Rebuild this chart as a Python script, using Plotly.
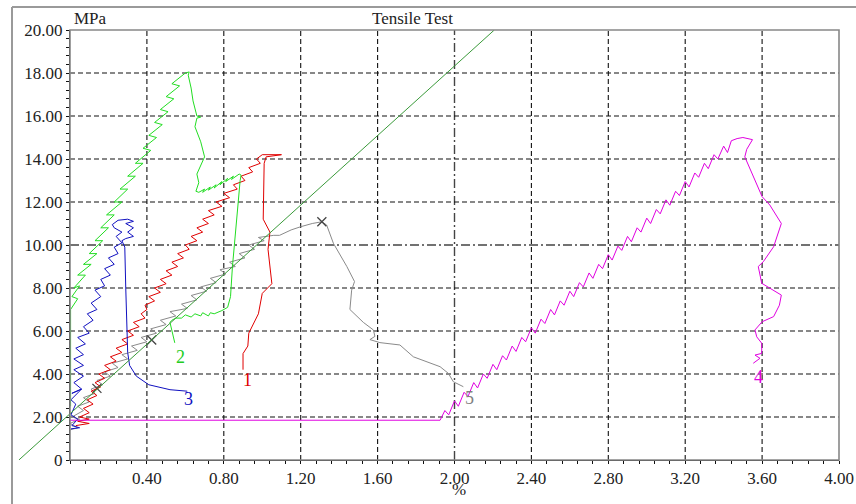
import plotly.graph_objects as go

# ---------------- data ----------------
x_tick_vals = [0.4, 0.8, 1.2, 1.6, 2.0, 2.4, 2.8, 3.2, 3.6, 4.0]
x_tick_text = ["0.40", "0.80", "1.20", "1.60", "2.00", "2.40", "2.80", "3.20", "3.60", "4.00"]
y_tick_vals = [0, 2, 4, 6, 8, 10, 12, 14, 16, 18, 20]
y_tick_text = ["0", "2.00", "4.00", "6.00", "8.00", "10.00", "12.00", "14.00", "16.00", "18.00", "20.00"]

# specimen 1 (red)
red_x = [0.03, 0.10, 0.04, 0.10, 0.05, 0.10, 0.07, 0.12, 0.09, 0.14, 0.11, 0.16, 0.13, 0.18, 0.15,
         0.21, 0.18, 0.24, 0.21, 0.27, 0.24, 0.30, 0.27, 0.33, 0.30, 0.36, 0.33, 0.39, 0.37, 0.40,
         0.39, 0.44, 0.41, 0.47, 0.44, 0.50, 0.47, 0.53, 0.50, 0.56, 0.53, 0.59, 0.56, 0.62, 0.60,
         0.66, 0.63, 0.69, 0.66, 0.72, 0.69, 0.75, 0.72, 0.79, 0.76, 0.83, 0.80, 0.87, 0.85, 0.91,
         0.89, 0.95, 0.93, 0.99, 0.97, 1.00, 1.10, 1.02, 1.01, 1.005, 1.04, 1.03, 1.05, 1.00, 0.98,
         0.93, 0.925, 0.90, 0.90]
red_y = [1.6, 1.7, 1.8, 1.9, 2.0, 2.2, 2.4, 2.6, 2.8, 3.0, 3.2, 3.4, 3.6, 3.8, 4.0,
         4.2, 4.4, 4.6, 4.8, 5.0, 5.2, 5.4, 5.6, 5.8, 6.0, 6.2, 6.4, 6.6, 6.8, 7.0,
         7.2, 7.4, 7.6, 7.8, 8.0, 8.2, 8.4, 8.6, 8.8, 9.0, 9.2, 9.4, 9.6, 9.8, 10.0,
         10.2, 10.4, 10.6, 10.8, 11.0, 11.2, 11.4, 11.6, 11.8, 12.0, 12.2, 12.4, 12.6, 12.8, 13.0,
         13.2, 13.4, 13.6, 13.8, 14.0, 14.2, 14.2, 14.1, 13.8, 11.2, 10.6, 9.8, 8.2, 7.75, 6.8,
         5.9, 5.3, 4.95, 4.2]

# specimen 2 (green)
green_x = [0.003, 0.003, 0.04, 0.01, 0.05, 0.02, 0.08, 0.04, 0.11, 0.07, 0.14, 0.10, 0.17, 0.13,
           0.20, 0.16, 0.23, 0.19, 0.27, 0.23, 0.30, 0.26, 0.34, 0.30, 0.38, 0.34, 0.42, 0.38,
           0.45, 0.41, 0.48, 0.44, 0.51, 0.47, 0.54, 0.50, 0.57, 0.53, 0.60, 0.62,
           0.615, 0.63, 0.64, 0.66, 0.68, 0.66, 0.65, 0.68, 0.70, 0.68, 0.66,
           0.67, 0.655, 0.67, 0.70, 0.69, 0.73, 0.72, 0.76, 0.75, 0.79, 0.78, 0.82, 0.81, 0.85,
           0.84, 0.88, 0.89, 0.885, 0.875, 0.86, 0.845, 0.835, 0.82, 0.79, 0.75, 0.73, 0.72,
           0.69, 0.68, 0.65, 0.63, 0.60, 0.58, 0.55, 0.53, 0.52, 0.53, 0.545]
green_y = [2.5, 7.0, 7.5, 7.6, 8.1, 8.0, 8.6, 8.6, 9.1, 9.1, 9.6, 9.6, 10.2, 10.2,
           10.8, 10.8, 11.4, 11.4, 12.0, 12.0, 12.6, 12.6, 13.2, 13.2, 13.8, 13.8, 14.4, 14.5,
           15.0, 15.1, 15.6, 15.7, 16.2, 16.3, 16.8, 16.9, 17.4, 17.5, 18.0, 18.05,
           17.9, 17.3, 16.7, 16.0, 15.95, 15.9, 15.5, 14.8, 14.1, 13.7, 13.3,
           12.9, 12.5, 12.45, 12.6, 12.45, 12.7, 12.55, 12.8, 12.65, 12.95, 12.8, 13.1, 12.95, 13.2,
           13.05, 13.3, 13.25, 13.0, 12.0, 10.5, 9.0, 7.6, 7.1, 6.95, 6.8, 6.85, 6.7,
           6.85, 6.7, 6.8, 6.65, 6.75, 6.6, 6.6, 6.5, 6.4, 6.0, 5.45]

# specimen 3 (blue)
blue_x = [0.005, 0.05, 0.01, 0.04, 0.005, 0.03, 0.005, 0.06, 0.01, 0.06, 0.02, 0.07, 0.02, 0.07,
          0.02, 0.07, 0.03, 0.08, 0.04, 0.10, 0.07, 0.12, 0.09, 0.14, 0.11, 0.16, 0.13, 0.18,
          0.16, 0.21, 0.18, 0.23, 0.20, 0.25, 0.23, 0.27, 0.24, 0.27, 0.23, 0.22, 0.25, 0.30,
          0.33, 0.29, 0.33, 0.30, 0.33, 0.29, 0.27, 0.285, 0.29, 0.295, 0.30, 0.31, 0.345, 0.41,
          0.52, 0.61]
blue_y = [1.45, 1.5, 1.6, 1.9, 2.1, 2.6, 2.8, 3.3, 3.1, 3.3, 3.6, 3.9, 4.2, 4.4,
          4.7, 4.9, 5.2, 5.4, 5.7, 5.9, 6.2, 6.5, 6.8, 7.0, 7.3, 7.6, 7.9, 8.1,
          8.4, 8.6, 8.9, 9.1, 9.4, 9.6, 9.9, 10.1, 10.4, 10.6, 10.8, 10.95, 11.15, 11.2,
          11.1, 11.0, 10.8, 10.6, 10.4, 10.3, 10.2, 9.9, 8.0, 6.0, 5.0, 4.4, 3.9, 3.5,
          3.27, 3.2]

# specimen 4 (magenta)
mag_x = [0.0, 1.925, 1.95, 1.97, 2.00, 2.02, 2.05, 2.07, 2.10, 2.12, 2.15, 2.17, 2.20, 2.22,
         2.25, 2.27, 2.30, 2.32, 2.35, 2.37, 2.40, 2.42, 2.45, 2.47, 2.50, 2.52, 2.55, 2.57,
         2.60, 2.62, 2.65, 2.67, 2.70, 2.72, 2.75, 2.77, 2.80, 2.82, 2.85, 2.87, 2.90, 2.92,
         2.95, 2.97, 3.00, 3.02, 3.05, 3.07, 3.10, 3.12, 3.15, 3.17, 3.20, 3.22, 3.25, 3.27,
         3.30, 3.32, 3.35, 3.37, 3.40, 3.42, 3.44, 3.47, 3.50, 3.55, 3.52, 3.51, 3.60, 3.64,
         3.70, 3.66, 3.606, 3.58, 3.598, 3.70, 3.69, 3.66, 3.60, 3.563, 3.572, 3.598, 3.598,
         3.563, 3.589, 3.554]
mag_y = [1.85, 1.85, 2.3, 2.1, 2.75, 2.5, 3.15, 2.95, 3.6, 3.35, 4.0, 3.8, 4.45, 4.2,
         4.85, 4.65, 5.3, 5.05, 5.7, 5.5, 6.15, 5.9, 6.55, 6.35, 7.0, 6.75, 7.4, 7.2,
         7.85, 7.6, 8.25, 8.05, 8.7, 8.45, 9.1, 8.9, 9.55, 9.3, 9.95, 9.75, 10.4, 10.15,
         10.8, 10.6, 11.25, 11.0, 11.65, 11.45, 12.1, 11.85, 12.5, 12.3, 12.95, 12.7, 13.35, 13.15,
         13.8, 13.55, 14.2, 14.0, 14.6, 14.3, 14.85, 14.95, 15.0, 14.9, 14.45, 14.1, 12.25, 11.86,
         11.0, 9.92, 9.22, 9.0, 8.22, 7.67, 7.2, 6.67, 6.43, 6.05, 5.73, 5.43, 4.96,
         4.88, 4.73, 4.5]

# specimen 5 (grey)
grey_x = [0.0, 0.04, 0.0, 0.05, 0.01, 0.07, 0.04, 0.10, 0.07, 0.13, 0.11, 0.17, 0.14, 0.21, 0.18,
          0.25, 0.22, 0.30, 0.27, 0.35, 0.32, 0.40, 0.37, 0.45, 0.42, 0.50, 0.47, 0.55, 0.52, 0.61,
          0.58, 0.66, 0.63, 0.71, 0.68, 0.76, 0.73, 0.81, 0.78, 0.86, 0.83, 0.91, 0.88, 0.96, 0.93,
          1.01, 0.98, 1.06, 1.09, 1.15, 1.20, 1.26, 1.31, 1.335, 1.37, 1.44, 1.48, 1.465, 1.456,
          1.526, 1.578, 1.586, 1.56, 1.612, 1.716, 1.786, 1.925, 1.968, 1.994, 2.046]
grey_y = [1.4, 1.5, 1.7, 1.9, 2.0, 2.3, 2.5, 2.7, 2.9, 3.1, 3.3, 3.5, 3.7, 3.9, 4.1,
          4.3, 4.5, 4.7, 4.9, 5.1, 5.3, 5.5, 5.7, 5.9, 6.1, 6.3, 6.5, 6.7, 6.9, 7.05,
          7.25, 7.45, 7.65, 7.85, 8.05, 8.25, 8.45, 8.65, 8.85, 9.0, 9.2, 9.4, 9.6, 9.8, 10.0,
          10.2, 10.35, 10.45, 10.45, 10.7, 10.85, 11.0, 11.08, 10.93, 10.08, 9.0, 8.3, 7.9, 7.0,
          6.4, 6.05, 5.75, 5.6, 5.46, 5.35, 4.8, 4.34, 4.03, 3.64, 3.41]
grey_mark_x = [0.14, 0.425, 1.31]
grey_mark_y = [3.33, 5.58, 11.08]

# modulus reference line (extends left of the y axis)
diag_x = [-0.266, 2.207]
diag_y = [0.0, 20.0]

# curve number labels
label_text = ["1", "2", "3", "4", "5"]
label_x = [0.925, 0.575, 0.615, 3.58, 2.08]
label_y = [3.72, 4.8, 2.85, 3.88, 2.9]
label_color = ["#e00000", "#22cc22", "#1010c0", "#e000e0", "#808080"]

# ---------------- figure ----------------
W, H = 856, 504
ML, MR, MT, MB = 12, 17, 30, 44
PW = W - ML - MR
PH = H - MT - MB
AXIS_LEFT_PX = 70
d0 = (AXIS_LEFT_PX - ML) / PW
x2_lo = -4.0 * d0 / (1 - d0)

FONT = "Liberation Serif, Times New Roman, serif"
FS = 17

def px_x(p):
    return (p - ML) / PW

def px_y(p):
    return (H - MB - p) / PH

fig = go.Figure()

line_w = 1
fig.add_trace(go.Scatter(x=grey_x, y=grey_y, mode="lines",
                         line=dict(color="#8a8a8a", width=line_w), hoverinfo="skip"))
fig.add_trace(go.Scatter(x=grey_mark_x, y=grey_mark_y, mode="markers",
                         marker=dict(symbol="x-thin-open", size=9, color="#444444",
                                     line=dict(color="#444444", width=1.3)), hoverinfo="skip"))
fig.add_trace(go.Scatter(x=red_x, y=red_y, mode="lines",
                         line=dict(color="#e00000", width=line_w), hoverinfo="skip"))
fig.add_trace(go.Scatter(x=blue_x, y=blue_y, mode="lines",
                         line=dict(color="#1010c0", width=line_w), hoverinfo="skip"))
fig.add_trace(go.Scatter(x=green_x, y=green_y, mode="lines",
                         line=dict(color="#22dd22", width=line_w), hoverinfo="skip"))
fig.add_trace(go.Scatter(x=mag_x, y=mag_y, mode="lines",
                         line=dict(color="#e000e0", width=line_w), hoverinfo="skip"))
fig.add_trace(go.Scatter(x=diag_x, y=diag_y, mode="lines", xaxis="x2", yaxis="y",
                         line=dict(color="#3a9a3a", width=1), hoverinfo="skip"))

# labels next to curves
for t, lx, ly, c in zip(label_text, label_x, label_y, label_color):
    fig.add_annotation(x=lx, y=ly, xref="x", yref="y", text=t, showarrow=False,
                       font=dict(family=FONT, size=18, color=c))

shapes = []
# grid lines
for v in x_tick_vals[:-1]:
    special = abs(v - 2.0) < 1e-9
    shapes.append(dict(type="line", xref="x", yref="y domain", x0=v, x1=v, y0=0, y1=1,
                       layer="below",
                       line=dict(color="#444444" if special else "#111111",
                                 width=1.4 if special else 1.1,
                                 dash="9px,3px,2px,3px" if special else "5px,3px")))
for v in y_tick_vals[1:-1]:
    special = v == 10
    shapes.append(dict(type="line", xref="x domain", yref="y", x0=0, x1=1, y0=v, y1=v,
                       layer="below",
                       line=dict(color="#444444" if special else "#111111",
                                 width=1.4 if special else 1.1,
                                 dash="9px,3px,2px,3px" if special else "5px,3px")))
# plot frame
shapes.append(dict(type="rect", xref="x domain", yref="y domain", x0=0, x1=1, y0=0, y1=1,
                   layer="above", line=dict(color="#888888", width=1.6)))
# outer panel frame (top and left edges)
shapes.append(dict(type="line", xref="paper", yref="paper", x0=px_x(12), x1=px_x(870),
                   y0=px_y(7), y1=px_y(7), line=dict(color="#9a9a9a", width=2)))
shapes.append(dict(type="line", xref="paper", yref="paper", x0=px_x(12), x1=px_x(12),
                   y0=px_y(7), y1=px_y(520), line=dict(color="#9a9a9a", width=2)))

fig.update_layout(shapes=shapes)

fig.add_annotation(xref="paper", yref="paper", x=px_x(412), y=px_y(18), text="Tensile Test",
                   showarrow=False, xanchor="center", yanchor="middle",
                   font=dict(family=FONT, size=FS, color="#222222"))
fig.add_annotation(xref="paper", yref="paper", x=px_x(72), y=px_y(18), text="MPa",
                   showarrow=False, xanchor="left", yanchor="middle",
                   font=dict(family=FONT, size=FS, color="#222222"))
fig.add_annotation(xref="paper", yref="paper", x=px_x(459), y=px_y(489), text="%",
                   showarrow=False, xanchor="center", yanchor="middle",
                   font=dict(family=FONT, size=FS, color="#222222"))

fig.update_layout(
    width=W, height=H,
    margin=dict(l=ML, r=MR, t=MT, b=MB, pad=0, autoexpand=False),
    paper_bgcolor="white",
    plot_bgcolor="rgba(0,0,0,0)",
    showlegend=False,
    font=dict(family=FONT, size=FS, color="#222222"),
    xaxis=dict(domain=[d0, 1], range=[0, 4], anchor="y", automargin=False,
               tickmode="array", tickvals=x_tick_vals, ticktext=x_tick_text,
               showgrid=False, zeroline=False, showline=True, linecolor="#111111", linewidth=1,
               ticks="outside", ticklen=3, tickcolor="#111111",
               minor=dict(tickmode="linear", tick0=0, dtick=0.08, ticks="outside",
                          ticklen=3, tickcolor="#111111", showgrid=False),
               tickfont=dict(family=FONT, size=FS, color="#222222")),
    xaxis2=dict(domain=[0, 1], range=[x2_lo, 4], anchor="y", visible=False, automargin=False,
                showgrid=False, zeroline=False),
    yaxis=dict(range=[0, 20], anchor="x", automargin=False,
               tickmode="array", tickvals=y_tick_vals, ticktext=y_tick_text,
               showgrid=False, zeroline=False, showline=True, linecolor="#111111", linewidth=1,
               ticks="outside", ticklen=3, tickcolor="#111111",
               minor=dict(tickmode="linear", tick0=0, dtick=0.4, ticks="outside",
                          ticklen=3, tickcolor="#111111", showgrid=False),
               tickfont=dict(family=FONT, size=FS, color="#222222")),
)

fig.write_html(
    "out.html",
    config={"displayModeBar": False},
    post_script="document.documentElement.style.margin='0';document.body.style.margin='0';"
                "document.body.style.overflow='hidden';",
)
